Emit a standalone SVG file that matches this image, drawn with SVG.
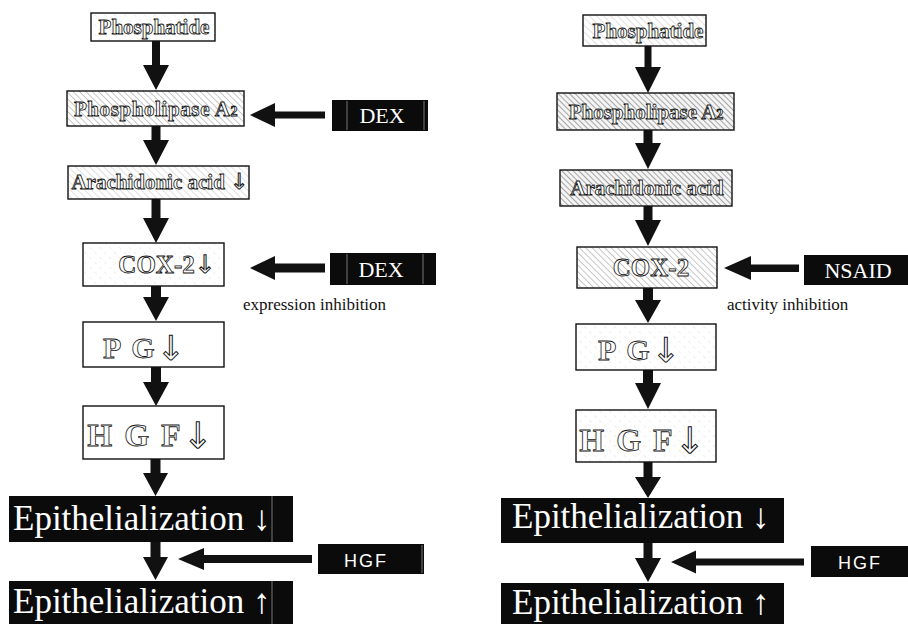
<svg xmlns="http://www.w3.org/2000/svg" width="908" height="624" viewBox="0 0 908 624">
<style>
.box{stroke:#111;stroke-width:1.4}
.blk{fill:#0b0b0b}
.ol{font-family:"Liberation Serif","Times New Roman",serif;font-weight:bold;fill:#fff;stroke:#111;stroke-width:0.8;text-anchor:middle}
.ar{font-family:"DejaVu Sans",sans-serif;font-weight:normal;stroke-width:1}
.ep{font-family:"Liberation Serif","Times New Roman",serif;fill:#fff;font-size:35px}
.drug{font-family:"Liberation Serif","Times New Roman",serif;fill:#fff;font-size:22px;text-anchor:middle}
.hgf{font-family:"Liberation Sans",Arial,sans-serif;fill:#fff;font-size:18px;letter-spacing:2px;text-anchor:middle}
.note{font-family:"Liberation Serif","Times New Roman",serif;fill:#111;font-size:17px}
.arr{fill:#111}
.scan{stroke:#777;stroke-width:1}
</style>
<defs>
<pattern id="hL" width="5" height="5" patternUnits="userSpaceOnUse" patternTransform="rotate(-45)">
<rect width="5" height="5" fill="#fff"/><line x1="0" y1="0" x2="0" y2="5" stroke="#bbb" stroke-width="0.9"/>
</pattern>
<pattern id="hM" width="4.5" height="4.5" patternUnits="userSpaceOnUse" patternTransform="rotate(-45)">
<rect width="4.5" height="4.5" fill="#fff"/><line x1="0" y1="0" x2="0" y2="4.5" stroke="#9a9a9a" stroke-width="1.1"/>
</pattern>
<pattern id="hD" width="4" height="4" patternUnits="userSpaceOnUse" patternTransform="rotate(-45)">
<rect width="4" height="4" fill="#f4f4f4"/><line x1="0" y1="0" x2="0" y2="4" stroke="#7a7a7a" stroke-width="1.3"/>
</pattern>
<pattern id="hF" width="7" height="7" patternUnits="userSpaceOnUse" patternTransform="rotate(-45)">
<rect width="7" height="7" fill="#fff"/><line x1="0" y1="0" x2="0" y2="3" stroke="#d4d4d4" stroke-width="0.8"/>
</pattern>
</defs>
<rect width="908" height="624" fill="#fff"/>

<g id="connectors">
<polygon class="arr" points="152,41 160,41 160,65 169,65 156,90 143,65 152,65"/>
<polygon class="arr" points="151.5,126 160.5,126 160.5,140 169,140 156,165 143,140 151.5,140"/>
<polygon class="arr" points="151.5,199 160.5,199 160.5,218 169,218 156,243 143,218 151.5,218"/>
<polygon class="arr" points="151,286 161,286 161,297 169,297 156,321 143,297 151,297"/>
<polygon class="arr" points="151,367 161,367 161,382 169,382 156,406 143,382 151,382"/>
<polygon class="arr" points="150.5,459 160.5,459 160.5,473 168,473 155.5,496 143,473 150.5,473"/>
<polygon class="arr" points="150.5,542 160.5,542 160.5,557 168,557 155.5,580 143,557 150.5,557"/>

<polygon class="arr" points="644.5,46 651.5,46 651.5,67 661,67 648,93 635,67 644.5,67"/>
<polygon class="arr" points="643.5,130 652.5,130 652.5,143 661,143 648,169 635,143 643.5,143"/>
<polygon class="arr" points="643.5,206 652.5,206 652.5,220 661,220 648,246 635,220 643.5,220"/>
<polygon class="arr" points="643,288 653,288 653,300 661,300 648,323 635,300 643,300"/>
<polygon class="arr" points="643,370 653,370 653,383 661,383 648,409 635,383 643,383"/>
<polygon class="arr" points="643.5,462 652.5,462 652.5,477 661,477 648,498 635,477 643.5,477"/>
<polygon class="arr" points="643.5,543 652.5,543 652.5,558 661,558 648,582 635,558 643.5,558"/>

<polygon class="arr" points="250,115 275,103 275,111.5 325,111.5 325,118.5 275,118.5 275,127"/>
<polygon class="arr" points="250,268 275,256 275,263.5 325,263.5 325,272.5 275,272.5 275,280"/>
<polygon class="arr" points="178,559 204,548 204,555 312,555 312,563 204,563 204,570"/>
<polygon class="arr" points="724,268 751,256 751,264.5 799,264.5 799,272 751,272 751,280"/>
<polygon class="arr" points="671,562 696,550.5 696,558.5 804,558.5 804,565.5 696,565.5 696,573.5"/>
</g>

<g id="L-phosphatide">
<rect class="box" x="91" y="13" width="124" height="28" fill="url(#hF)"/>
<text class="ol" x="154" y="34" font-size="21">Phosphatide</text>
</g>
<g id="L-pla2">
<rect class="box" x="67" y="91" width="177" height="35" fill="url(#hM)"/>
<text class="ol" x="156" y="115.5" font-size="21" letter-spacing="0.6">Phospholipase A<tspan font-size="14">2</tspan></text>
</g>
<g id="L-aa">
<rect class="box" x="68" y="166" width="181" height="33" fill="url(#hL)"/>
<text class="ol" x="160" y="189" font-size="21">Arachidonic acid <tspan class="ar" font-size="22">↓</tspan></text>
</g>
<g id="L-cox2">
<rect class="box" x="83" y="243" width="141" height="43" fill="url(#hF)"/>
<text class="ol" x="167" y="273" font-size="25">COX-2<tspan class="ar" font-size="25">↓</tspan></text>
</g>
<g id="L-pg">
<rect class="box" x="83" y="322" width="141" height="45" fill="#fff"/>
<text class="ol" x="145" y="358" font-size="30" letter-spacing="2">P G<tspan class="ar" font-size="34" dy="2">↓</tspan></text>
</g>
<g id="L-hgf">
<rect class="box" x="83" y="406" width="141" height="53" fill="#fff"/>
<text class="ol" x="151" y="446" font-size="32" letter-spacing="2">H G F<tspan class="ar" font-size="36" dy="2">↓</tspan></text>
</g>
<g id="L-epi-down">
<rect class="blk" x="9" y="496" width="284" height="46"/>
<line class="scan" x1="272" y1="496" x2="272" y2="542"/>
<text class="ep" x="13" y="530">Epithelialization ↓</text>
</g>
<g id="L-epi-up">
<rect class="blk" x="9" y="581" width="284" height="50"/>
<line class="scan" x1="272" y1="581" x2="272" y2="624"/>
<text class="ep" x="13" y="613" font-size="34">Epithelialization ↑</text>
</g>
<g id="L-dex1">
<rect class="blk" x="332" y="100" width="96" height="31"/>
<line class="scan" x1="347" y1="101" x2="347" y2="130"/>
<line class="scan" x1="424" y1="101" x2="424" y2="130"/>
<text class="drug" x="382" y="123">DEX</text>
</g>
<g id="L-dex2">
<rect class="blk" x="330" y="253" width="106" height="32"/>
<line class="scan" x1="347" y1="254" x2="347" y2="284"/>
<line class="scan" x1="423" y1="254" x2="423" y2="284"/>
<text class="drug" x="381" y="277">DEX</text>
</g>
<g id="L-note">
<text class="note" x="243" y="310">expression inhibition</text>
</g>
<g id="L-hgf-drug">
<rect class="blk" x="318" y="544" width="106" height="30"/>
<line class="scan" x1="422" y1="545" x2="422" y2="573"/>
<text class="hgf" x="366" y="567">HGF</text>
</g>

<g id="R-phosphatide">
<rect class="box" x="583" y="15" width="123" height="31" fill="url(#hL)"/>
<text class="ol" x="648" y="37.5" font-size="21">Phosphatide</text>
</g>
<g id="R-pla2">
<rect class="box" x="557" y="93" width="177" height="37" fill="url(#hD)"/>
<text class="ol" x="646" y="119" font-size="21">Phospholipase A<tspan font-size="14">2</tspan></text>
</g>
<g id="R-aa">
<rect class="box" x="560" y="170" width="172" height="36" fill="url(#hD)"/>
<text class="ol" x="647" y="195" font-size="21">Arachidonic acid</text>
</g>
<g id="R-cox2">
<rect class="box" x="577" y="247" width="140" height="41" fill="url(#hM)"/>
<text class="ol" x="651" y="276" font-size="25">COX-2</text>
</g>
<g id="R-pg">
<rect class="box" x="576" y="324" width="140" height="46" fill="url(#hF)"/>
<text class="ol" x="640" y="360" font-size="30" letter-spacing="2">P G<tspan class="ar" font-size="34" dy="2">↓</tspan></text>
</g>
<g id="R-hgf">
<rect class="box" x="576" y="410" width="140" height="52" fill="url(#hF)"/>
<text class="ol" x="643" y="451" font-size="32" letter-spacing="2">H G F<tspan class="ar" font-size="36" dy="2">↓</tspan></text>
</g>
<g id="R-epi-down">
<rect class="blk" x="501" y="498" width="283" height="45"/>
<text class="ep" x="512" y="528">Epithelialization ↓</text>
</g>
<g id="R-epi-up">
<rect class="blk" x="501" y="583" width="283" height="48"/>
<text class="ep" x="512" y="614" font-size="34">Epithelialization ↑</text>
</g>
<g id="R-nsaid">
<rect class="blk" x="804" y="255" width="104" height="30"/>
<text class="drug" x="858" y="278" font-size="21">NSAID</text>
</g>
<g id="R-note">
<text class="note" x="727" y="310">activity inhibition</text>
</g>
<g id="R-hgf-drug">
<rect class="blk" x="811" y="546" width="97" height="31"/>
<text class="hgf" x="860" y="569">HGF</text>
</g>
</svg>
